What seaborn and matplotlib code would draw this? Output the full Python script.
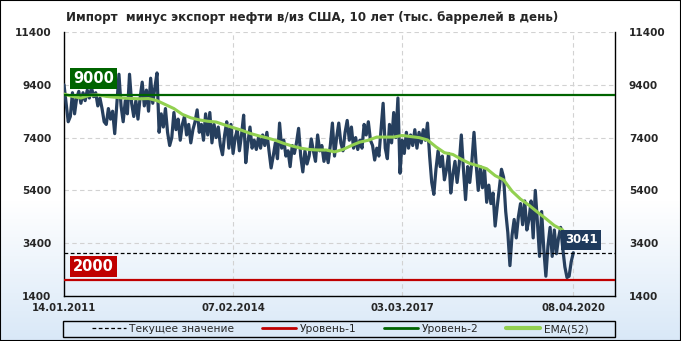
import numpy as np
import pandas as pd
import matplotlib
matplotlib.use("Agg")
import matplotlib.pyplot as plt
import matplotlib.transforms as mtransforms
from matplotlib.patches import Rectangle
from matplotlib.lines import Line2D
import seaborn as sns

# Данные (тыс. баррелей в день), шаг 2 недели начиная с 14.01.2011
start_date = "2011-01-14"
net_import = [
    9400, 8700, 8000, 8200, 9100, 8300, 8900, 9150, 8700, 9100,
    8800, 9200, 8900, 9300, 8950, 9100, 8600, 8900, 8500, 8000,
    7900, 8500, 8100, 8400, 7550, 8700, 9800, 8600, 8000, 8800,
    8300, 9800, 8700, 8200, 8800, 8100, 8900, 9500, 8600, 9200,
    8400, 9650, 8700, 9300, 9850, 7600,
    8300, 7800, 8500, 7600, 7100, 7400, 8350, 7700, 8100, 7300,
    7900, 8200, 7500, 7900, 7200, 7700, 8000, 8450, 7600, 7900,
    7300, 8300, 7500, 8350, 7200, 7900, 7400, 7800, 7100, 6750,
    7500, 8000, 7000, 7900, 6800, 7400, 7700, 6900,
    7500, 8250, 6450, 7200, 7800, 7000, 7300, 6950, 7400, 7000,
    7500, 7100, 7600, 6900, 6250, 6700, 7200, 6600, 7950, 7000,
    7300, 6700, 6900, 6300, 7100, 6800, 7200, 7750, 6700, 6100,
    6900, 6400, 6700, 7350, 6900, 6500, 7500, 6900, 7100, 6500,
    6900,
    6450, 7100, 7950, 6700, 7400, 7950, 7200, 6900, 7600, 8050,
    7300, 7800, 7000, 7400, 6950, 7300, 7000, 7900, 7500, 8000,
    7300, 7100, 6550, 7000, 6700, 7700, 8700, 7000, 6600, 7900,
    7200, 8350, 7400, 8900, 6050, 7300, 6800, 7600, 7000, 7500,
    7100, 7700,
    7000, 7600, 7200, 7700, 7300, 7950, 6700, 5700, 5250, 6200,
    6900, 6300, 6700, 5800, 6200, 6800, 5300, 6000, 6500, 5700,
    6400, 7500, 6200, 5050, 6300, 5700, 6500, 7600, 6400, 5400,
    6300, 5500, 6200, 4950, 5600, 4900, 5300, 4050, 4800, 5500,
    6200, 5900,
    4600, 3800, 2550, 3700, 4300, 3600, 4400, 4900, 4100, 5000,
    3900, 4300, 5000, 3600, 5400, 4200, 2900, 4600, 3200, 2150,
    3300, 4000, 2900, 3900, 3000, 3600, 4000, 3200, 2500, 2100,
    2150, 2700, 3041,
]

# EMA(52), шаг 8 недель
ema_52 = [
    9050, 8960, 8900, 9000, 9020, 8960, 8930, 8900, 8880, 8870,
    8880, 8800, 8650, 8500, 8280, 8150, 8070, 8020, 7990, 7880,
    7780, 7680, 7560, 7470, 7390, 7300, 7180, 7080, 7000, 6950,
    6930, 6930, 6860, 6950, 7100, 7230, 7300, 7420, 7420, 7420,
    7480, 7440, 7400, 7310, 7050, 6830, 6760, 6580, 6420, 6330,
    6220, 5960, 5800, 5370, 5070, 4840, 4580, 4330, 4070, 3900,
]

current_value = 3041
level_1 = 2000
level_2 = 9000
x_ticks = ["2011-01-14", "2014-02-07", "2017-03-03", "2020-04-08"]
x_labels = ["14.01.2011", "07.02.2014", "03.03.2017", "08.04.2020"]
x_end = "2021-01-11"
y_ticks = [1400, 3400, 5400, 7400, 9400, 11400]
title = "Импорт  минус экспорт нефти в/из США, 10 лет (тыс. баррелей в день)"

df = pd.DataFrame({
    "date": pd.date_range(start_date, periods=len(net_import), freq="14D"),
    "value": net_import,
})
df_ema = pd.DataFrame({
    "date": pd.date_range(start_date, periods=len(ema_52), freq="56D"),
    "ema": ema_52,
})

sns.set_theme(style="white")
plt.rcParams["font.family"] = ["DejaVu Sans"]

fig = plt.figure(figsize=(6.81, 3.41), dpi=100)

# фон с градиентом
bg = fig.add_axes([0, 0, 1, 1], zorder=-10)
grad = np.ones((341, 1, 3))
blue = np.array([0.85, 0.91, 0.97])
t = np.clip((np.arange(341) - 200) / 141, 0, 1)[:, None]
grad[:, 0, :] = (1 - t) * 1.0 + t * blue
bg.imshow(grad, aspect="auto", extent=[0, 1, 0, 1])
bg.axis("off")

ax = fig.add_axes([64 / 681, 1 - 296 / 341, 551 / 681, 264 / 341])
ax.set_facecolor("none")

sns.lineplot(data=df, x="date", y="value", ax=ax, color="#263f5e",
             linewidth=2.3, zorder=3)
sns.lineplot(data=df_ema, x="date", y="ema", ax=ax, color="#92d050",
             linewidth=2.2, zorder=4)
ax.axhline(level_1, color="#c00000", lw=1.6, zorder=5)
ax.axhline(level_2, color="#006400", lw=1.6, zorder=5)
ax.axhline(current_value, color="black", lw=0.9, ls=(0, (3, 2)), zorder=5)

ax.set_xlim(pd.Timestamp(start_date), pd.Timestamp(x_end))
ax.set_ylim(y_ticks[0], y_ticks[-1])
ax.set_xticks(pd.to_datetime(x_ticks))
ax.set_xticklabels(x_labels, fontsize=7.3, fontweight="bold")
ax.set_yticks(y_ticks)
ax.set_yticklabels([str(v) for v in y_ticks], fontsize=7.6, fontweight="bold")
ax.tick_params(axis="both", length=0)
ax.tick_params(axis="y", pad=9)
ax.tick_params(axis="x", pad=5)
ax.set_xlabel("")
ax.set_ylabel("")
ax.grid(True, ls=(0, (4, 3)), color="#d2d2d2", lw=0.8)
ax.spines["top"].set_visible(False)
for s in ["left", "right", "bottom"]:
    ax.spines[s].set_color("black")
    ax.spines[s].set_linewidth(1)

ax2 = ax.twinx()
ax2.set_ylim(y_ticks[0], y_ticks[-1])
ax2.set_yticks(y_ticks)
ax2.set_yticklabels([str(v) for v in y_ticks], fontsize=7.6, fontweight="bold")
ax2.tick_params(axis="y", length=0, pad=10)
ax2.grid(False)
for s in ax2.spines.values():
    s.set_visible(False)

blend = mtransforms.blended_transform_factory(ax.transAxes, ax.transData)
ax.annotate(str(level_2), xy=(0, level_2), xycoords=blend, xytext=(9, 17),
            textcoords="offset pixels", ha="left", va="center", color="white",
            fontsize=10.5, fontweight="bold", zorder=7,
            bbox=dict(boxstyle="square,pad=0.2", fc="#006400", ec="none"))
ax.annotate(str(level_1), xy=(0, level_1), xycoords=blend, xytext=(9, 14),
            textcoords="offset pixels", ha="left", va="center", color="white",
            fontsize=10.5, fontweight="bold", zorder=7,
            bbox=dict(boxstyle="square,pad=0.2", fc="#c00000", ec="none"))
ax.annotate(str(current_value), xy=(df["date"].iloc[-1], current_value),
            xytext=(8, 13), textcoords="offset pixels", ha="center",
            va="center", color="white", fontsize=8.5, fontweight="bold",
            zorder=7,
            bbox=dict(boxstyle="square,pad=0.3", fc="#1f3a5c", ec="none"))

fig.text(312 / 681, 1 - 18 / 341, title, ha="center", va="center",
         fontsize=8.6, fontweight="bold")

# легенда: рамка отдельно, элементы по центру
fig.add_artist(Rectangle((63 / 681, 1 - 337 / 341), 552 / 681, 16 / 341,
                         transform=fig.transFigure, fill=False,
                         ec="black", lw=1))
handles = [
    Line2D([], [], color="black", lw=0.9, ls=(0, (3, 2))),
    Line2D([], [], color="#c00000", lw=2),
    Line2D([], [], color="#006400", lw=2),
    Line2D([], [], color="#92d050", lw=3),
]
labels = ["Текущее значение", "Уровень-1", "Уровень-2", "EMA(52)"]
fig.legend(handles, labels, loc="center",
           bbox_to_anchor=(340 / 681, 1 - 329 / 341),
           ncol=4, frameon=False, fontsize=7.7,
           handlelength=3.2, handletextpad=0.3, columnspacing=2.6,
           borderpad=0, borderaxespad=0)

fig.add_artist(Rectangle((0, 0), 1, 1, transform=fig.transFigure, fill=False,
                         ec="black", lw=1.5))

fig.savefig("out.png", dpi=100)
